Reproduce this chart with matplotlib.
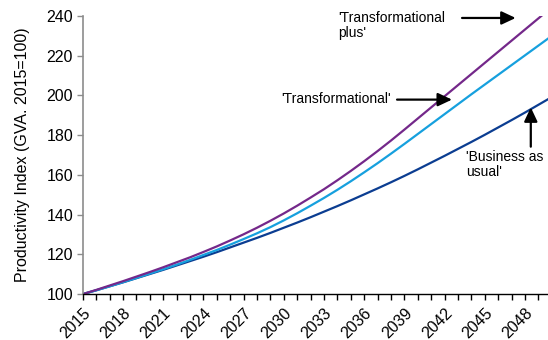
import matplotlib
matplotlib.use("Agg")
import matplotlib.pyplot as plt
from matplotlib.patches import ArrowStyle

plt.rcParams['font.family'] = ['Liberation Sans', 'DejaVu Sans']

years = list(range(2015, 2051))

business_as_usual = [
    100.0, 101.9, 103.9, 105.9, 108.0, 110.1, 112.2, 114.4, 116.6, 118.8,
    121.1, 123.5, 125.9, 128.3, 130.8, 133.4, 136.0, 138.7, 141.5, 144.3,
    147.2, 150.2, 153.2, 156.3, 159.5, 162.8, 166.2, 169.6, 173.1, 176.6,
    180.2, 183.9, 187.6, 191.4, 195.3, 199.2,
]
transformational = [
    100.0, 101.9, 103.9, 106.0, 108.1, 110.3, 112.5, 114.8, 117.2, 119.7,
    122.2, 124.9, 127.7, 130.6, 133.7, 137.1, 140.7, 144.5, 148.4, 152.5,
    156.8, 161.3, 165.9, 170.7, 175.6, 180.6, 185.6, 190.6, 195.6, 200.6,
    205.5, 210.4, 215.3, 220.2, 225.1, 230.0,
]
transformational_plus = [
    100.0, 102.1, 104.3, 106.5, 108.8, 111.1, 113.5, 116.0, 118.5, 121.2,
    124.0, 127.0, 130.1, 133.4, 136.9, 140.6, 144.5, 148.6, 152.8, 157.3,
    162.0, 166.9, 172.0, 177.3, 182.8, 188.4, 194.0, 199.6, 205.2, 210.8,
    216.4, 222.0, 227.6, 233.2, 238.8, 244.4,
]

y_ticks = [100, 120, 140, 160, 180, 200, 220, 240]
x_label_years = list(range(2015, 2049, 3))

fig = plt.figure(figsize=(5.48, 3.40), dpi=100)
ax = fig.add_axes([0.151, 0.135, 0.856, 0.818])

ax.plot(years, business_as_usual, color='#0B3D91', lw=1.6, solid_capstyle='butt')
ax.plot(years, transformational, color='#16A0DE', lw=1.6, solid_capstyle='butt')
ax.plot(years, transformational_plus, color='#74288A', lw=1.6, solid_capstyle='butt')

ax.set_xlim(2015, 2050)
ax.set_ylim(100, 240)

ax.set_yticks(y_ticks)
ax.set_yticklabels([str(v) for v in y_ticks], fontsize=11.5)
ax.set_xticks(years)
ax.set_xticklabels([str(y) if y in x_label_years else '' for y in years],
                   fontsize=11.5, rotation=45, ha='right', rotation_mode='anchor')

ax.spines['top'].set_visible(False)
ax.spines['right'].set_visible(False)
ax.spines['left'].set_color('#8c8c8c')
ax.spines['left'].set_linewidth(1.2)
ax.spines['bottom'].set_color('black')
ax.spines['bottom'].set_linewidth(1.0)
ax.tick_params(axis='y', direction='out', length=4, width=1, color='#8c8c8c', pad=3)
ax.tick_params(axis='x', direction='out', length=4, width=1, color='black', pad=4)

ax.set_ylabel('Productivity Index (GVA. 2015=100)', fontsize=11.5, labelpad=12)

arrow = dict(arrowstyle=ArrowStyle('-|>', head_length=0.85, head_width=0.4),
             mutation_scale=10, lw=1.6, color='black', shrinkA=0, shrinkB=0)

ax.text(2034.07, 235.3, "'Transformational\nplus'", fontsize=10,
        ha='left', va='center', linespacing=1.1)
ax.annotate('', xy=(2047.3, 239.0), xytext=(2043.3, 239.0), arrowprops=arrow,
            annotation_clip=False)

ax.text(2029.84, 198.0, "'Transformational'", fontsize=10, ha='left', va='center')
ax.annotate('', xy=(2042.55, 197.9), xytext=(2038.45, 197.9), arrowprops=arrow)

ax.text(2043.6, 165.2, "'Business as\nusual'", fontsize=10,
        ha='left', va='center', linespacing=1.1)
ax.annotate('', xy=(2048.43, 194.0), xytext=(2048.43, 174.2), arrowprops=arrow)

fig.savefig('out.png', dpi=100)
